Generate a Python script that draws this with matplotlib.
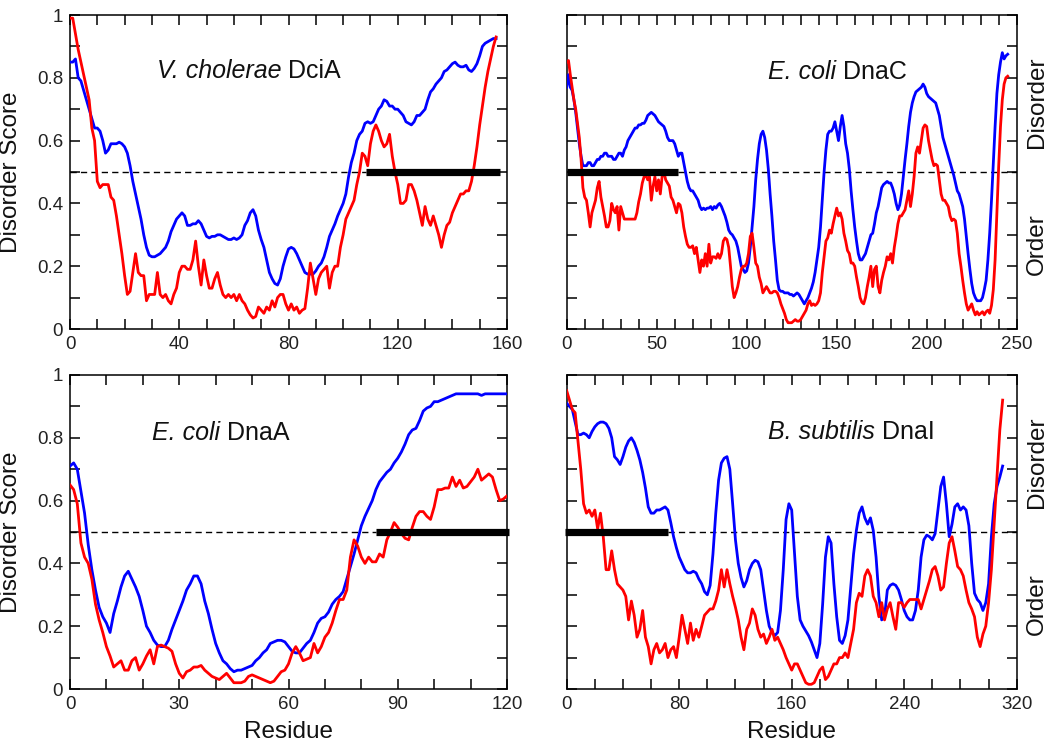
import numpy as np
import matplotlib
matplotlib.use("Agg")
import matplotlib.pyplot as plt
from matplotlib.ticker import MultipleLocator, FuncFormatter

plt.rcParams["font.family"] = ["Liberation Sans", "DejaVu Sans"]

# ---------------- disorder predictions (one value per residue) ----------------
dcia_blue = [
    0.85, 0.85, 0.86, 0.80, 0.79, 0.76, 0.73, 0.70, 0.67, 0.64,
    0.64, 0.63, 0.60, 0.56, 0.57, 0.59, 0.59, 0.59, 0.595, 0.59,
    0.58, 0.56, 0.52, 0.47, 0.43, 0.39, 0.35, 0.30, 0.26, 0.235,
    0.23, 0.23, 0.235, 0.24, 0.25, 0.26, 0.28, 0.31, 0.33, 0.35,
    0.36, 0.37, 0.36, 0.33, 0.33, 0.335, 0.335, 0.345, 0.335, 0.315,
    0.295, 0.29, 0.295, 0.295, 0.30, 0.30, 0.295, 0.29, 0.285, 0.285,
    0.29, 0.285, 0.29, 0.30, 0.33, 0.345, 0.37, 0.38, 0.36, 0.315,
    0.285, 0.26, 0.22, 0.18, 0.16, 0.145, 0.14, 0.16, 0.20, 0.23,
    0.255, 0.26, 0.255, 0.24, 0.22, 0.20, 0.18, 0.175, 0.175, 0.175,
    0.185, 0.20, 0.21, 0.23, 0.26, 0.295, 0.315, 0.335, 0.36, 0.38,
    0.40, 0.43, 0.485, 0.53, 0.56, 0.60, 0.62, 0.63, 0.655, 0.66,
    0.655, 0.66, 0.68, 0.70, 0.71, 0.73, 0.725, 0.71, 0.71, 0.70,
    0.70, 0.69, 0.68, 0.66, 0.655, 0.65, 0.66, 0.68, 0.68, 0.69,
    0.70, 0.73, 0.755, 0.765, 0.78, 0.79, 0.80, 0.82, 0.825, 0.835,
    0.845, 0.85, 0.84, 0.835, 0.835, 0.84, 0.825, 0.82, 0.83, 0.845,
    0.87, 0.90, 0.91, 0.915, 0.92, 0.925, 0.925,
]
dcia_red = [
    0.99, 0.99, 0.94, 0.89, 0.85, 0.81, 0.77, 0.73, 0.64, 0.60,
    0.47, 0.45, 0.46, 0.46, 0.46, 0.42, 0.41, 0.36, 0.30, 0.24,
    0.17, 0.11, 0.12, 0.18, 0.24, 0.18, 0.17, 0.17, 0.09, 0.11,
    0.11, 0.11, 0.18, 0.11, 0.10, 0.11, 0.09, 0.08, 0.11, 0.13,
    0.18, 0.20, 0.20, 0.19, 0.19, 0.22, 0.28, 0.20, 0.14, 0.22,
    0.17, 0.13, 0.13, 0.16, 0.18, 0.14, 0.11, 0.10, 0.11, 0.10,
    0.11, 0.09, 0.11, 0.09, 0.08, 0.06, 0.045, 0.035, 0.04, 0.07,
    0.06, 0.05, 0.07, 0.06, 0.09, 0.07, 0.10, 0.11, 0.11, 0.08,
    0.06, 0.08, 0.06, 0.07, 0.05, 0.06, 0.065, 0.13, 0.21, 0.16,
    0.11, 0.16, 0.18, 0.19, 0.20, 0.13, 0.18, 0.20, 0.20, 0.26,
    0.30, 0.35, 0.37, 0.39, 0.41, 0.46, 0.50, 0.56, 0.55, 0.52,
    0.59, 0.63, 0.65, 0.63, 0.60, 0.58, 0.59, 0.62, 0.55, 0.50,
    0.46, 0.40, 0.40, 0.41, 0.46, 0.46, 0.44, 0.41, 0.37, 0.33,
    0.39, 0.35, 0.33, 0.36, 0.33, 0.30, 0.26, 0.30, 0.33, 0.34,
    0.37, 0.39, 0.41, 0.43, 0.43, 0.44, 0.44, 0.47, 0.52, 0.58,
    0.65, 0.71, 0.77, 0.82, 0.86, 0.90, 0.93,
]

dnac_blue = [
    0.77, 0.81, 0.77, 0.76, 0.73, 0.69, 0.64, 0.59, 0.55, 0.52,
    0.52, 0.52, 0.53, 0.53, 0.52, 0.52, 0.53, 0.54, 0.54, 0.55,
    0.55, 0.56, 0.56, 0.55, 0.55, 0.55, 0.54, 0.54, 0.55, 0.56,
    0.56, 0.55, 0.57, 0.58, 0.60, 0.61, 0.62, 0.63, 0.64, 0.64,
    0.65, 0.65, 0.655, 0.655, 0.665, 0.68, 0.685, 0.69, 0.685, 0.68,
    0.67, 0.66, 0.655, 0.65, 0.645, 0.63, 0.61, 0.60, 0.60, 0.60,
    0.59, 0.57, 0.55, 0.56, 0.56, 0.53, 0.50, 0.47, 0.45, 0.44,
    0.44, 0.43, 0.42, 0.41, 0.39, 0.38, 0.385, 0.38, 0.385, 0.385,
    0.39, 0.38, 0.39, 0.385, 0.395, 0.40, 0.39, 0.375, 0.36, 0.34,
    0.315, 0.305, 0.30, 0.29, 0.28, 0.26, 0.23, 0.20, 0.19, 0.18,
    0.185, 0.21, 0.26, 0.325, 0.39, 0.475, 0.54, 0.59, 0.62, 0.63,
    0.61, 0.57, 0.51, 0.43, 0.36, 0.28, 0.22, 0.155, 0.125, 0.12,
    0.12, 0.115, 0.115, 0.115, 0.11, 0.11, 0.105, 0.11, 0.115, 0.11,
    0.10, 0.09, 0.08, 0.09, 0.10, 0.115, 0.13, 0.15, 0.18, 0.22,
    0.26, 0.325, 0.41, 0.50, 0.57, 0.62, 0.63, 0.63, 0.64, 0.66,
    0.63, 0.60, 0.645, 0.68, 0.645, 0.59, 0.56, 0.51, 0.44, 0.38,
    0.325, 0.28, 0.24, 0.22, 0.22, 0.23, 0.24, 0.26, 0.28, 0.30,
    0.305, 0.335, 0.37, 0.39, 0.42, 0.45, 0.46, 0.465, 0.47, 0.465,
    0.465, 0.45, 0.43, 0.40, 0.38, 0.395, 0.43, 0.485, 0.54, 0.59,
    0.645, 0.69, 0.72, 0.74, 0.755, 0.76, 0.765, 0.77, 0.78, 0.77,
    0.75, 0.74, 0.735, 0.73, 0.725, 0.72, 0.70, 0.68, 0.645, 0.61,
    0.59, 0.57, 0.55, 0.53, 0.51, 0.49, 0.465, 0.44, 0.43, 0.41,
    0.39, 0.35, 0.295, 0.24, 0.19, 0.145, 0.115, 0.10, 0.09, 0.09,
    0.09, 0.10, 0.125, 0.155, 0.22, 0.305, 0.41, 0.53, 0.645, 0.75,
    0.81, 0.85, 0.88, 0.86, 0.87, 0.875,
]
dnac_red = [
    0.85, 0.855, 0.81, 0.77, 0.73, 0.70, 0.655, 0.61, 0.54, 0.45,
    0.42, 0.41, 0.37, 0.325, 0.37, 0.39, 0.41, 0.45, 0.47, 0.42,
    0.39, 0.36, 0.325, 0.325, 0.345, 0.40, 0.38, 0.37, 0.39, 0.315,
    0.39, 0.37, 0.35, 0.35, 0.35, 0.35, 0.35, 0.35, 0.35, 0.37,
    0.405, 0.43, 0.465, 0.485, 0.49, 0.475, 0.485, 0.41, 0.455, 0.485,
    0.44, 0.475, 0.43, 0.485, 0.50, 0.475, 0.465, 0.455, 0.42, 0.41,
    0.39, 0.37, 0.40, 0.395, 0.37, 0.325, 0.295, 0.27, 0.26, 0.26,
    0.265, 0.24, 0.26, 0.22, 0.18, 0.22, 0.20, 0.24, 0.20, 0.27,
    0.21, 0.23, 0.23, 0.225, 0.24, 0.225, 0.24, 0.28, 0.29, 0.285,
    0.26, 0.20, 0.135, 0.10, 0.115, 0.135, 0.165, 0.19, 0.20, 0.20,
    0.21, 0.24, 0.295, 0.305, 0.26, 0.21, 0.20, 0.165, 0.145, 0.115,
    0.125, 0.135, 0.125, 0.115, 0.115, 0.12, 0.12, 0.115, 0.10, 0.08,
    0.065, 0.05, 0.03, 0.02, 0.02, 0.02, 0.025, 0.03, 0.025, 0.025,
    0.03, 0.04, 0.05, 0.06, 0.08, 0.09, 0.075, 0.08, 0.075, 0.08,
    0.09, 0.115, 0.18, 0.23, 0.28, 0.29, 0.315, 0.305, 0.335, 0.36,
    0.385, 0.36, 0.37, 0.35, 0.305, 0.28, 0.25, 0.24, 0.21, 0.21,
    0.20, 0.165, 0.135, 0.10, 0.085, 0.08, 0.10, 0.135, 0.165, 0.20,
    0.135, 0.19, 0.20, 0.135, 0.115, 0.155, 0.18, 0.20, 0.23, 0.22,
    0.24, 0.21, 0.26, 0.295, 0.335, 0.36, 0.36, 0.37, 0.38, 0.41,
    0.44, 0.39, 0.43, 0.485, 0.56, 0.58, 0.56, 0.60, 0.64, 0.65,
    0.645, 0.60, 0.57, 0.54, 0.52, 0.525, 0.52, 0.475, 0.43, 0.41,
    0.41, 0.40, 0.39, 0.36, 0.345, 0.35, 0.345, 0.305, 0.24, 0.20,
    0.155, 0.115, 0.08, 0.06, 0.07, 0.08, 0.06, 0.045, 0.055, 0.045,
    0.05, 0.055, 0.045, 0.055, 0.06, 0.05, 0.075, 0.125, 0.22, 0.37,
    0.52, 0.645, 0.73, 0.78, 0.80, 0.805,
]

dnaa_blue = [
    0.71, 0.72, 0.70, 0.63, 0.56, 0.46, 0.38, 0.315, 0.26, 0.23,
    0.21, 0.18, 0.24, 0.28, 0.325, 0.36, 0.375, 0.35, 0.325, 0.295,
    0.25, 0.20, 0.18, 0.155, 0.14, 0.135, 0.135, 0.155, 0.19, 0.22,
    0.25, 0.28, 0.315, 0.335, 0.36, 0.36, 0.335, 0.28, 0.24, 0.19,
    0.145, 0.115, 0.09, 0.08, 0.065, 0.055, 0.06, 0.06, 0.065, 0.07,
    0.075, 0.09, 0.10, 0.115, 0.125, 0.145, 0.15, 0.155, 0.155, 0.15,
    0.135, 0.12, 0.115, 0.115, 0.13, 0.145, 0.155, 0.18, 0.21, 0.225,
    0.23, 0.245, 0.27, 0.285, 0.295, 0.31, 0.35, 0.39, 0.43, 0.475,
    0.52, 0.55, 0.575, 0.60, 0.635, 0.66, 0.675, 0.69, 0.70, 0.72,
    0.735, 0.755, 0.78, 0.81, 0.825, 0.83, 0.855, 0.885, 0.895, 0.90,
    0.915, 0.915, 0.92, 0.925, 0.93, 0.935, 0.94, 0.94, 0.94, 0.94,
    0.94, 0.94, 0.94, 0.935, 0.94, 0.94, 0.94, 0.94, 0.94, 0.94, 0.94,
]
dnaa_red = [
    0.65, 0.635, 0.59, 0.465, 0.42, 0.40, 0.35, 0.27, 0.22, 0.18,
    0.135, 0.105, 0.07, 0.08, 0.09, 0.06, 0.06, 0.09, 0.10, 0.06,
    0.08, 0.105, 0.125, 0.08, 0.135, 0.14, 0.135, 0.13, 0.12, 0.08,
    0.05, 0.035, 0.055, 0.06, 0.07, 0.07, 0.075, 0.06, 0.05, 0.04,
    0.035, 0.03, 0.04, 0.05, 0.035, 0.02, 0.02, 0.02, 0.025, 0.04,
    0.045, 0.04, 0.035, 0.03, 0.025, 0.02, 0.025, 0.04, 0.055, 0.06,
    0.08, 0.115, 0.135, 0.115, 0.09, 0.095, 0.10, 0.145, 0.115, 0.135,
    0.165, 0.18, 0.21, 0.25, 0.285, 0.285, 0.315, 0.42, 0.475, 0.455,
    0.42, 0.40, 0.42, 0.405, 0.405, 0.43, 0.42, 0.475, 0.50, 0.53,
    0.515, 0.495, 0.48, 0.475, 0.515, 0.55, 0.565, 0.565, 0.55, 0.54,
    0.58, 0.635, 0.635, 0.64, 0.64, 0.675, 0.645, 0.665, 0.64, 0.645,
    0.66, 0.675, 0.70, 0.665, 0.675, 0.685, 0.675, 0.635, 0.60, 0.605, 0.615,
]

# DnaI values are sampled every second residue
dnai_step = 2
dnai_blue = [
    0.91, 0.90, 0.89, 0.85, 0.81, 0.81, 0.815, 0.81, 0.80, 0.82,
    0.835, 0.845, 0.85, 0.85, 0.845, 0.83, 0.80, 0.74, 0.73, 0.715,
    0.74, 0.77, 0.79, 0.80, 0.785, 0.76, 0.73, 0.69, 0.64, 0.58,
    0.56, 0.56, 0.57, 0.57, 0.575, 0.58, 0.57, 0.53, 0.485, 0.45,
    0.42, 0.40, 0.38, 0.37, 0.37, 0.375, 0.37, 0.35, 0.335, 0.31,
    0.30, 0.33, 0.43, 0.56, 0.665, 0.72, 0.735, 0.74, 0.70, 0.59,
    0.475, 0.40, 0.355, 0.325, 0.345, 0.38, 0.40, 0.41, 0.405, 0.38,
    0.315, 0.25, 0.20, 0.18, 0.17, 0.18, 0.25, 0.38, 0.54, 0.59,
    0.57, 0.43, 0.295, 0.22, 0.20, 0.185, 0.17, 0.15, 0.125, 0.10,
    0.145, 0.27, 0.42, 0.485, 0.465, 0.335, 0.23, 0.155, 0.145, 0.17,
    0.22, 0.325, 0.43, 0.505, 0.56, 0.58, 0.545, 0.525, 0.545, 0.505,
    0.42, 0.295, 0.22, 0.23, 0.315, 0.33, 0.335, 0.33, 0.315, 0.285,
    0.25, 0.23, 0.22, 0.22, 0.25, 0.315, 0.42, 0.475, 0.49, 0.485,
    0.475, 0.495, 0.57, 0.645, 0.675, 0.59, 0.485, 0.525, 0.58, 0.59,
    0.57, 0.58, 0.57, 0.52, 0.40, 0.305, 0.285, 0.275, 0.25, 0.275,
    0.335, 0.485, 0.59, 0.645, 0.675, 0.71,
]
dnai_red = [
    0.95, 0.92, 0.89, 0.88, 0.79, 0.70, 0.59, 0.56, 0.57, 0.55,
    0.57, 0.51, 0.56, 0.485, 0.38, 0.38, 0.44, 0.38, 0.335, 0.325,
    0.315, 0.295, 0.22, 0.28, 0.235, 0.165, 0.19, 0.25, 0.165, 0.135,
    0.08, 0.125, 0.145, 0.115, 0.125, 0.145, 0.10, 0.125, 0.135, 0.10,
    0.165, 0.235, 0.19, 0.145, 0.21, 0.155, 0.19, 0.165, 0.20, 0.235,
    0.245, 0.255, 0.255, 0.28, 0.315, 0.38, 0.325, 0.38, 0.335, 0.295,
    0.26, 0.22, 0.165, 0.125, 0.19, 0.21, 0.255, 0.235, 0.19, 0.165,
    0.175, 0.145, 0.165, 0.19, 0.155, 0.165, 0.145, 0.125, 0.10, 0.08,
    0.06, 0.08, 0.08, 0.06, 0.04, 0.02, 0.015, 0.015, 0.02, 0.04,
    0.06, 0.07, 0.03, 0.04, 0.06, 0.08, 0.08, 0.10, 0.10, 0.115,
    0.10, 0.145, 0.19, 0.275, 0.305, 0.295, 0.36, 0.38, 0.36, 0.295,
    0.275, 0.23, 0.275, 0.22, 0.255, 0.275, 0.23, 0.19, 0.275, 0.275,
    0.26, 0.275, 0.285, 0.285, 0.285, 0.285, 0.255, 0.285, 0.315, 0.345,
    0.38, 0.39, 0.36, 0.315, 0.325, 0.40, 0.465, 0.485, 0.44, 0.39,
    0.38, 0.36, 0.315, 0.275, 0.255, 0.23, 0.165, 0.135, 0.175, 0.20,
    0.275, 0.38, 0.53, 0.675, 0.825, 0.92,
]

# Panel titles (italic species, upright protein), disordered spans, axis lengths
species_names = ["V. cholerae", "E. coli", "E. coli", "B. subtilis"]
protein_names = ["DciA", "DnaC", "DnaA", "DnaI"]
disordered_spans = [(108.5, 157.5), (0, 62), (84, 120.5), (-1, 72)]
residue_limits = [160, 250, 120, 320]
x_major = [40, 50, 30, 80]
x_minor = [10, 10, 10, 20]
threshold = 0.5

blue_series = [dcia_blue, dnac_blue, dnaa_blue, dnai_blue]
red_series = [dcia_red, dnac_red, dnaa_red, dnai_red]
residue_steps = [1, 1, 1, dnai_step]

# ---------------------------------- figure ----------------------------------
fig = plt.figure(figsize=(10.48, 7.43), dpi=100)
W, H = 1048, 743
boxes = [(70, 15, 507, 329), (566.7, 15, 1016.7, 329),
         (70, 375, 507, 689), (566.7, 375, 1016.7, 689)]
title_anchor = [(0.199, 0.823), (0.447, 0.82), (0.188, 0.815), (0.447, 0.818)]

tick_color = "#222222"
text_color = "#111111"
for i, (x0, y0, x1, y1) in enumerate(boxes):
    ax = fig.add_axes([x0 / W, 1 - y1 / H, (x1 - x0) / W, (y1 - y0) / H])
    blue = np.asarray(blue_series[i])
    red = np.asarray(red_series[i])
    xb = np.arange(len(blue)) * residue_steps[i]
    xr = np.arange(len(red)) * residue_steps[i]

    start, stop = disordered_spans[i]
    if start <= 0:
        ax.plot([stop, residue_limits[i]], [threshold, threshold], color="black",
                lw=1.0, dashes=(4.5, 3), zorder=1)
    else:
        ax.plot([0, start], [threshold, threshold], color="black",
                lw=1.0, dashes=(4.5, 3), zorder=1)

    ax.plot(xb, blue, color="#0000ff", lw=2.0, zorder=3)
    ax.plot(xr, red, color="#ff0000", lw=2.0, zorder=4)
    ax.plot([start, stop], [threshold, threshold], color="black", lw=5.2,
            solid_capstyle="butt", zorder=5, clip_on=False)

    ax.set_xlim(0, residue_limits[i])
    ax.set_ylim(0, 1)
    ax.xaxis.set_major_locator(MultipleLocator(x_major[i]))
    ax.xaxis.set_minor_locator(MultipleLocator(x_minor[i]))
    ax.yaxis.set_major_locator(MultipleLocator(0.2))
    ax.yaxis.set_minor_locator(MultipleLocator(0.1))
    ax.yaxis.set_major_formatter(FuncFormatter(lambda v, p: f"{v:g}"))
    for which in ("major", "minor"):
        ax.tick_params(axis="both", which=which, direction="in", length=7,
                       width=1.1, top=True, right=True, color="black")
    ax.tick_params(axis="both", which="major", labelsize=13.5,
                   labelcolor=tick_color, pad=5)
    for sp in ax.spines.values():
        sp.set_linewidth(1.1)

    # title: italic species name followed by the upright protein name
    tx, ty = title_anchor[i]
    species = ax.text(tx, ty, species_names[i], transform=ax.transAxes,
                      ha="left", va="center", fontsize=18, style="italic",
                      color=text_color)
    ax.annotate(" " + protein_names[i], xy=(1, 0), xycoords=species,
                ha="left", va="bottom", fontsize=18, color=text_color)

    if i % 2 == 0:
        ax.set_ylabel("Disorder Score", fontsize=17.5, color=text_color)
        ax.yaxis.set_label_coords(-0.11, 0.5)
    else:
        ax.tick_params(axis="y", which="both", labelleft=False)
        ax.text(1.045, 0.723, "Disorder", rotation=90, transform=ax.transAxes,
                ha="center", va="center", fontsize=17.5, color=text_color)
        ax.text(1.045, 0.27, "Order", rotation=90, transform=ax.transAxes,
                ha="center", va="center", fontsize=17.5, color=text_color)
    if i >= 2:
        ax.text(0.5, -0.156, "Residue", transform=ax.transAxes, ha="center",
                va="baseline", fontsize=17.5, color=text_color)

fig.savefig("out.png", dpi=100)
